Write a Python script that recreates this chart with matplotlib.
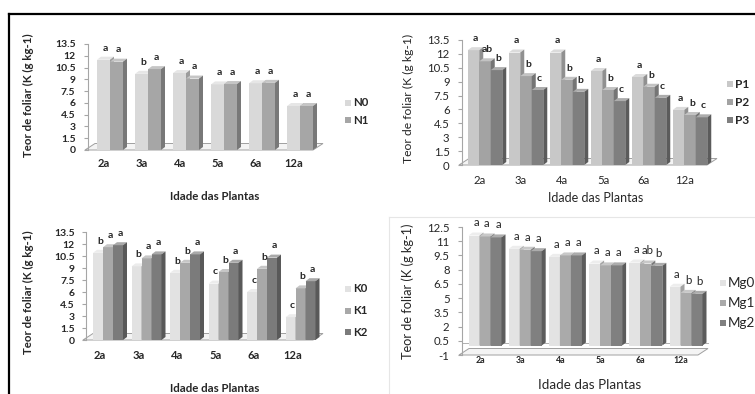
import numpy as np
import matplotlib
matplotlib.use("Agg")
import matplotlib.pyplot as plt
from matplotlib.patches import Polygon, Rectangle
from matplotlib.lines import Line2D
from matplotlib.colors import to_rgb

plt.rcParams["font.family"] = ["Lato", "DejaVu Sans"]

W, H = 755, 394
fig = plt.figure(figsize=(W / 100, H / 100), dpi=100)

# ---- data -------------------------------------------------------------
ages = ["2a", "3a", "4a", "5a", "6a", "12a"]
ylabel = "Teor de foliar (K (g kg-1)"
xlabel = "Idade das Plantas"

# Nitrogen
N0 = [11.5, 9.7, 9.8, 8.35, 8.5, 5.6]
N1 = [11.25, 10.3, 9.1, 8.4, 8.55, 5.6]
N0_letters = ["a", "b", "a", "a", "a", "a"]
N1_letters = ["a", "a", "a", "a", "a", "a"]

# Phosphorus
P1 = [12.4, 12.15, 12.15, 10.15, 9.5, 5.95]
P2 = [11.2, 9.6, 9.2, 8.1, 8.45, 5.4]
P3 = [10.25, 8.1, 7.9, 6.9, 7.25, 5.15]
P1_letters = ["a", "a", "a", "a", "a", "a"]
P2_letters = ["ab", "b", "b", "b", "b", "b"]
P3_letters = ["b", "c", "b", "c", "c", "c"]

# Potassium
K0 = [10.9, 9.2, 8.4, 7.05, 6.0, 2.85]
K1 = [11.6, 10.2, 9.65, 8.5, 8.9, 6.45]
K2 = [11.85, 10.7, 10.7, 9.65, 10.3, 7.35]
K0_letters = ["b", "b", "b", "c", "c", "c"]
K1_letters = ["a", "a", "b", "b", "b", "b"]
K2_letters = ["a", "a", "a", "a", "a", "a"]

# Magnesium
Mg0 = [11.6, 10.2, 9.35, 8.65, 8.75, 6.2]
Mg1 = [11.5, 10.1, 9.5, 8.45, 8.65, 5.55]
Mg2 = [11.4, 9.95, 9.5, 8.45, 8.4, 5.45]
Mg0_letters = ["a", "a", "a", "a", "a", "a"]
Mg1_letters = ["a", "a", "a", "a", "ab", "b"]
Mg2_letters = ["a", "a", "a", "a", "b", "b"]

ticks_0_135 = [0, 1.5, 3, 4.5, 6, 7.5, 9, 10.5, 12, 13.5]
ticks_m1_125 = [-1, 0.5, 2, 3.5, 5, 6.5, 8, 9.5, 11, 12.5]

TXT = "#262626"


def shade(c, f):
    r = np.array(to_rgb(c))
    if f < 1:
        return tuple(r * f)
    return tuple(r + (1 - r) * (f - 1))


def px(x, y):
    return x / W, 1 - y / H


def draw_panel(box, ylim, yticks, centers, bar_px, names, values, letters,
               colors, st, base=0.0):
    left, right, top_px, bottom_px = box
    c0, step = centers
    ax = fig.add_axes([left / W, 1 - bottom_px / H,
                       (right - left) / W, (bottom_px - top_px) / H])
    x0, x1 = (left - c0) / step, (right - c0) / step
    ax.set_xlim(x0, x1)
    ax.set_ylim(*ylim)
    ax.patch.set_alpha(0)
    sx = (x1 - x0) / (right - left)
    sy = (ylim[1] - ylim[0]) / (bottom_px - top_px)

    for s in ["top", "right", "bottom"]:
        ax.spines[s].set_visible(False)
    ax.spines["left"].set_color("#a6a6a6")
    ax.spines["left"].set_linewidth(0.8)
    ax.set_yticks(yticks)
    ax.set_yticklabels([f"{t:g}" for t in yticks], fontsize=st["tick"],
                       fontweight=st["w"], color=TXT)
    ax.tick_params(axis="y", length=3, width=0.8, color="#a6a6a6",
                   pad=st["ypad"])
    ax.set_xticks(np.arange(len(ages)) + st["xshift"] * sx)
    ax.set_xticklabels(ages, fontsize=st["xtick"], fontweight=st["xw"],
                       color=TXT)
    ax.tick_params(axis="x", length=0, pad=st["xpad"])

    # floor of the 3-D plot area
    fy = ylim[0]
    fdx, fdy = 10 * sx, 6.5 * sy
    floor = Polygon([(x0 - 3 * sx, fy), (x0 + 7 * sx, fy + fdy),
                     (x1, fy + fdy), (x1 - fdx, fy)], closed=True,
                    facecolor="#f4f4f4", edgecolor="#a0a0a0", lw=0.7,
                    clip_on=False, zorder=1)
    ax.add_patch(floor)
    if base > ylim[0]:
        ax.plot([x0, x1], [base + 3 * sy, base + 3 * sy], color="#b0b0b0",
                lw=0.7, clip_on=False, zorder=1.5)

    # 3-D columns
    ns = len(names)
    bw = bar_px / step
    dx, dy = 4 * sx, 3 * sy
    xs = np.arange(len(ages))
    for j, (vals, col) in enumerate(zip(values, colors)):
        lefts = xs - ns * bw / 2 + j * bw
        bars = ax.bar(lefts, np.array(vals) - base, width=bw, bottom=base,
                      align="edge", color=col, linewidth=0, clip_on=False,
                      label=names[j])
        top_c, side_c = shade(col, 1.35), shade(col, 0.72)
        for i, (rect, v) in enumerate(zip(bars, vals)):
            z = 2 + i * 10 + j * 2
            rect.set_zorder(z)
            a, b = lefts[i], lefts[i] + bw
            ax.add_patch(Polygon([(a, v), (a + dx, v + dy), (b + dx, v + dy),
                                  (b, v)], closed=True, facecolor=top_c,
                                 lw=0, clip_on=False, zorder=z + 0.5))
            ax.add_patch(Polygon([(b, base), (b + dx, base + dy),
                                  (b + dx, v + dy), (b, v)], closed=True,
                                 facecolor=side_c, lw=0, clip_on=False,
                                 zorder=z + 0.5))
            ax.annotate(letters[j][i], (a + bw / 2 + dx / 2, v + dy),
                        xytext=(0, st["lpad"]), textcoords="offset points",
                        ha="center", va="bottom", fontsize=st["let"],
                        fontweight=st["lw"], color=TXT, zorder=200)

    # legend
    lx, ly0, lstep = st["leg"]
    for j, (nm, col) in enumerate(zip(names, colors)):
        yy = ly0 + j * lstep
        fig.add_artist(Rectangle(px(lx, yy + 3), 5.5 / W, 6 / H,
                                 facecolor=col, edgecolor="none"))
        fig.text(*px(lx + 8, yy), nm, fontsize=st["legfs"],
                 fontweight=st["legw"], color=TXT, ha="left", va="center")

    # axis titles
    fig.text(*px(*st["ylab"]), ylabel, rotation=90, ha="center",
             va="center", fontsize=st["ylabfs"], fontweight=st["w"], color=TXT)
    fig.text(*px(*st["xlab"]), xlabel, ha="center", va="center",
             fontsize=st["xlabfs"], fontweight=st["w"], color=TXT)
    return ax


bold = dict(w="bold", xw="bold", lw="bold", legw="bold")

# N (top left)
draw_panel((88, 323, 44, 150), (0, 13.5), ticks_0_135, (110, 38), 13,
           ["N0", "N1"], [N0, N1], [N0_letters, N1_letters],
           ["#d9d9d9", "#a6a6a6"],
           dict(bold, tick=7.5, xtick=8, ypad=6, xshift=-6, xpad=6,
                let=7.5, lpad=3, leg=(345, 103, 17), legfs=8.2,
                ylab=(28, 95), xlab=(215, 197), ylabfs=8.3, xlabfs=8.3))

# P (top right)
draw_panel((462, 717, 40, 165), (0, 13.5), ticks_0_135, (485, 41), 11.5,
           ["P1", "P2", "P3"], [P1, P2, P3],
           [P1_letters, P2_letters, P3_letters],
           ["#c8c8c8", "#a3a3a3", "#7f7f7f"],
           dict(w="normal", xw="normal", lw="bold", legw="bold",
                tick=8.2, xtick=8.2, ypad=6, xshift=-5, xpad=7.5,
                let=7.5, lpad=3, leg=(727, 84, 18), legfs=8.5,
                ylab=(408, 98), xlab=(596, 198), ylabfs=8.7, xlabfs=9))

# K (bottom left)
draw_panel((86, 323, 232, 340), (0, 13.5), ticks_0_135, (108, 38.5), 10,
           ["K0", "K1", "K2"], [K0, K1, K2],
           [K0_letters, K1_letters, K2_letters],
           ["#e2e2e2", "#a8a8a8", "#7b7b7b"],
           dict(bold, tick=7.5, xtick=8, ypad=5, xshift=-8, xpad=7.5,
                let=7.5, lpad=3, leg=(345, 289, 21.5), legfs=8.2,
                ylab=(28, 292), xlab=(215, 388), ylabfs=8.3, xlabfs=8.3))

# Mg (bottom right)
draw_panel((462, 708, 227, 355), (-1, 12.5), ticks_m1_125, (485, 40.2), 11,
           ["Mg0", "Mg1", "Mg2"], [Mg0, Mg1, Mg2],
           [Mg0_letters, Mg1_letters, Mg2_letters],
           ["#e3e3e3", "#aaaaaa", "#808080"],
           dict(w="normal", xw="bold", lw="normal", legw="normal",
                tick=8.2, xtick=6.3, ypad=6, xshift=-5, xpad=1,
                let=8.3, lpad=3, leg=(720, 283, 20), legfs=9.7,
                ylab=(408, 291), xlab=(590, 385), ylabfs=9.2, xlabfs=9.7),
           base=0.0)

# outer frame and the faint box around the Mg chart
fig.add_artist(Line2D([9 / W, 1], [1 - 14 / H, 1 - 14 / H], color="black",
                      lw=1.6))
fig.add_artist(Line2D([9 / W, 9 / W], [0, 1 - 14 / H], color="black", lw=1.6))
fig.add_artist(Line2D([389 / W, 1], [1 - 217 / H, 1 - 217 / H],
                      color="#e6e6e6", lw=0.8))
fig.add_artist(Line2D([389 / W, 389 / W], [0, 1 - 217 / H], color="#e6e6e6",
                      lw=0.8))

fig.savefig("out.png", dpi=100)
